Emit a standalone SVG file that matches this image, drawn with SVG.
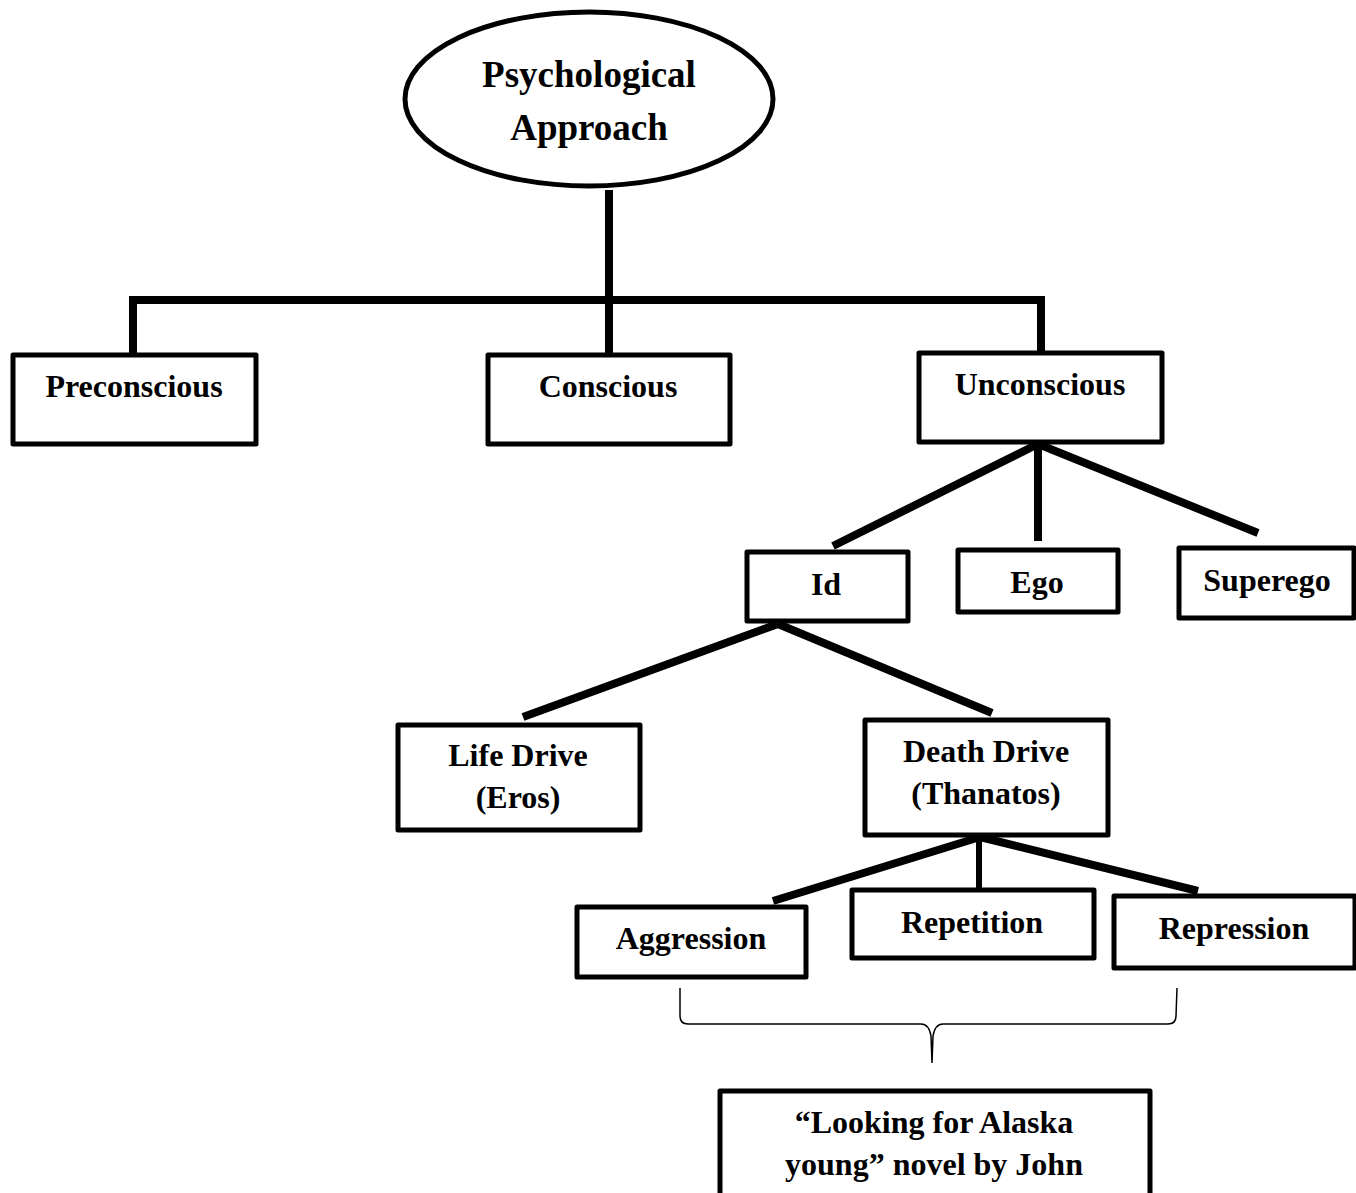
<svg xmlns="http://www.w3.org/2000/svg" width="1356" height="1193" viewBox="0 0 1356 1193">
<style>
.box{fill:#fff;stroke:#000;stroke-width:5;stroke-linejoin:round}
.t{font-family:"Liberation Serif","Times New Roman",serif;font-weight:bold;font-size:32px;fill:#000;text-anchor:middle}
.big{font-size:37px}
.c{stroke:#000;stroke-width:8;fill:none;stroke-linecap:butt;stroke-linejoin:miter}
.brace{stroke:#000;stroke-width:1.5;fill:none}
</style>
<rect width="1356" height="1193" fill="#fff"/>
<g id="connectors">
<polyline class="c" points="609,190 609,300"/>
<polyline class="c" points="133,356 133,300 1041,300 1041,353"/>
<line class="c" x1="609" y1="300" x2="609" y2="355"/>
<line class="c" x1="1038" y1="444" x2="833" y2="546"/>
<line class="c" x1="1038" y1="444" x2="1038" y2="541"/>
<line class="c" x1="1038" y1="444" x2="1258" y2="533"/>
<line class="c" x1="778" y1="624" x2="523" y2="717"/>
<line class="c" x1="778" y1="624" x2="992" y2="713"/>
<line class="c" x1="980" y1="837" x2="773" y2="901"/>
<line class="c" x1="979" y1="837" x2="979" y2="888" style="stroke-width:6"/>
<line class="c" x1="980" y1="837" x2="1198" y2="891"/>
<path class="brace" d="M680,988 L680,1016 Q680,1024 688,1024 L921,1024 Q929,1024 931,1036 L932,1063 L933,1036 Q935,1024 943,1024 L1168,1024 Q1176,1024 1176,1016 L1177,988"/>
</g>
<g id="root">
<ellipse cx="589" cy="99" rx="184" ry="87" fill="#fff" stroke="#000" stroke-width="5"/>
<text class="t big" x="589" y="87">Psychological</text>
<text class="t big" x="589" y="140">Approach</text>
</g>
<g id="preconscious"><rect class="box" x="13" y="355" width="243" height="89"/><text class="t" x="134" y="397">Preconscious</text></g>
<g id="conscious"><rect class="box" x="488" y="355" width="242" height="89"/><text class="t" x="608" y="397">Conscious</text></g>
<g id="unconscious"><rect class="box" x="919" y="353" width="243" height="89"/><text class="t" x="1040" y="395">Unconscious</text></g>
<g id="id"><rect class="box" x="747" y="552" width="161" height="69"/><text class="t" x="826" y="595">Id</text></g>
<g id="ego"><rect class="box" x="958" y="550" width="160" height="62"/><text class="t" x="1037" y="593">Ego</text></g>
<g id="superego"><rect class="box" x="1179" y="548" width="175" height="70"/><text class="t" x="1267" y="591">Superego</text></g>
<g id="life"><rect class="box" x="398" y="725" width="242" height="105"/><text class="t" x="518" y="766">Life Drive</text><text class="t" x="518" y="808">(Eros)</text></g>
<g id="death"><rect class="box" x="865" y="720" width="243" height="115"/><text class="t" x="986" y="762">Death Drive</text><text class="t" x="986" y="804">(Thanatos)</text></g>
<g id="aggression"><rect class="box" x="577" y="907" width="229" height="70"/><text class="t" x="691" y="949">Aggression</text></g>
<g id="repetition"><rect class="box" x="852" y="890" width="242" height="68"/><text class="t" x="972" y="933">Repetition</text></g>
<g id="repression"><rect class="box" x="1114" y="896" width="241" height="72"/><text class="t" x="1234" y="939">Repression</text></g>
<g id="novel"><rect class="box" x="720" y="1091" width="430" height="120"/><text class="t" x="934" y="1133">“Looking for Alaska</text><text class="t" x="934" y="1175">young” novel by John</text></g>
</svg>
